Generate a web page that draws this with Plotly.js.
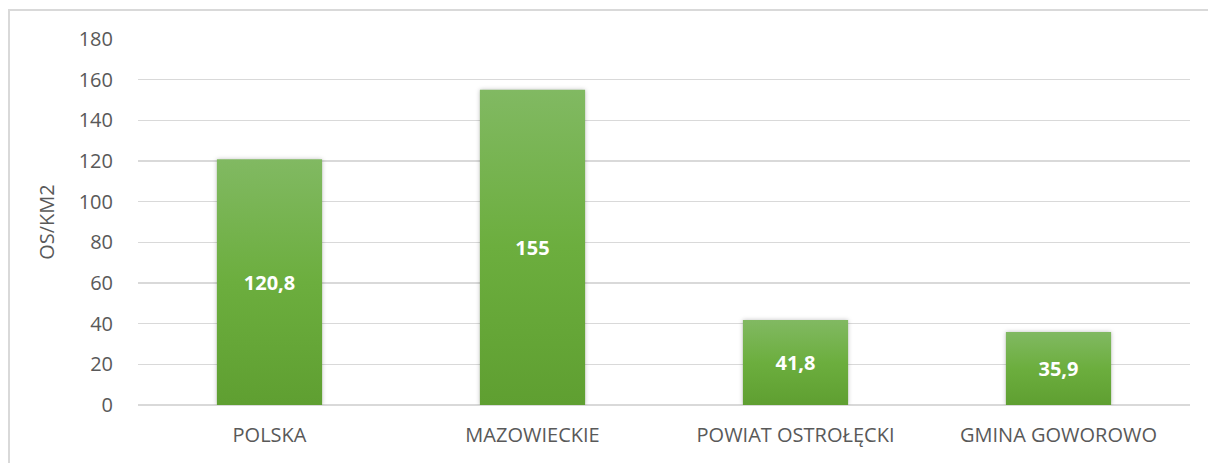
<!DOCTYPE html>
<html>
<head>
<meta charset="utf-8">
<script src="https://cdn.plot.ly/plotly-3.0.1.min.js"></script>
<style>
html,body{margin:0;padding:0;background:#fff;overflow:hidden;}
#chart{position:absolute;left:0;top:0;width:1208px;height:463px;}
#frame{position:absolute;left:8px;top:9px;width:1230px;height:480px;border:2px solid #d9d9d9;box-sizing:border-box;pointer-events:none;}
#chart .bars .point path{fill:url(#barGrad) #70ad47 !important;filter:drop-shadow(0px 0px 2px rgba(0,0,0,0.25));}
</style>
</head>
<body>
<svg width="0" height="0" style="position:absolute">
  <defs>
    <linearGradient id="barGrad" x1="0" y1="0" x2="0" y2="1">
      <stop offset="0" stop-color="#81b962"/>
      <stop offset="0.5" stop-color="#6cae3e"/>
      <stop offset="1" stop-color="#5f9f31"/>
    </linearGradient>
  </defs>
</svg>
<div id="chart"></div>
<div id="frame"></div>
<script>
const categories = ["POLSKA", "MAZOWIECKIE", "POWIAT OSTROŁĘCKI", "GMINA GOWOROWO"];
const density = [120.8, 155, 41.8, 35.9];
const yTicks = [0, 20, 40, 60, 80, 100, 120, 140, 160, 180];
const yTitle = "OS/KM2";

const trace = {
  type: "bar",
  x: categories,
  y: density,
  marker: {color: "#70ad47", line: {width: 0}},
  texttemplate: "%{y}",
  textposition: "inside",
  insidetextanchor: "middle",
  textangle: 0,
  textfont: {family: "Open Sans, sans-serif", size: 20, color: "#ffffff", weight: "bold"},
  hoverinfo: "none"
};

const layout = {
  width: 1208,
  height: 463,
  margin: {l: 138, r: 18, t: 39, b: 58},
  paper_bgcolor: "rgba(0,0,0,0)",
  plot_bgcolor: "rgba(0,0,0,0)",
  separators: ", ",
  bargap: 0.6,
  showlegend: false,
  font: {family: "Open Sans, sans-serif", size: 20, color: "#595959"},
  xaxis: {
    type: "category",
    showgrid: false,
    showline: false,
    zeroline: false,
    ticks: "outside",
    ticklen: 12,
    tickcolor: "rgba(0,0,0,0)",
    tickfont: {size: 20, color: "#595959"},
    fixedrange: true
  },
  yaxis: {
    range: [0, 180],
    tickvals: yTicks,
    ticktext: yTicks.map(String),
    showgrid: true,
    gridcolor: "#d9d9d9",
    gridwidth: 1.5,
    zeroline: true,
    zerolinecolor: "#d9d9d9",
    zerolinewidth: 1.5,
    showline: false,
    ticks: "outside",
    ticklen: 20,
    tickcolor: "rgba(0,0,0,0)",
    tickfont: {size: 20, color: "#595959"},
    title: {text: yTitle, font: {size: 20, color: "#595959"}, standoff: 18},
    automargin: false,
    fixedrange: true
  }
};

Plotly.newPlot("chart", [trace], layout, {displayModeBar: false, staticPlot: true});
</script>
</body>
</html>
